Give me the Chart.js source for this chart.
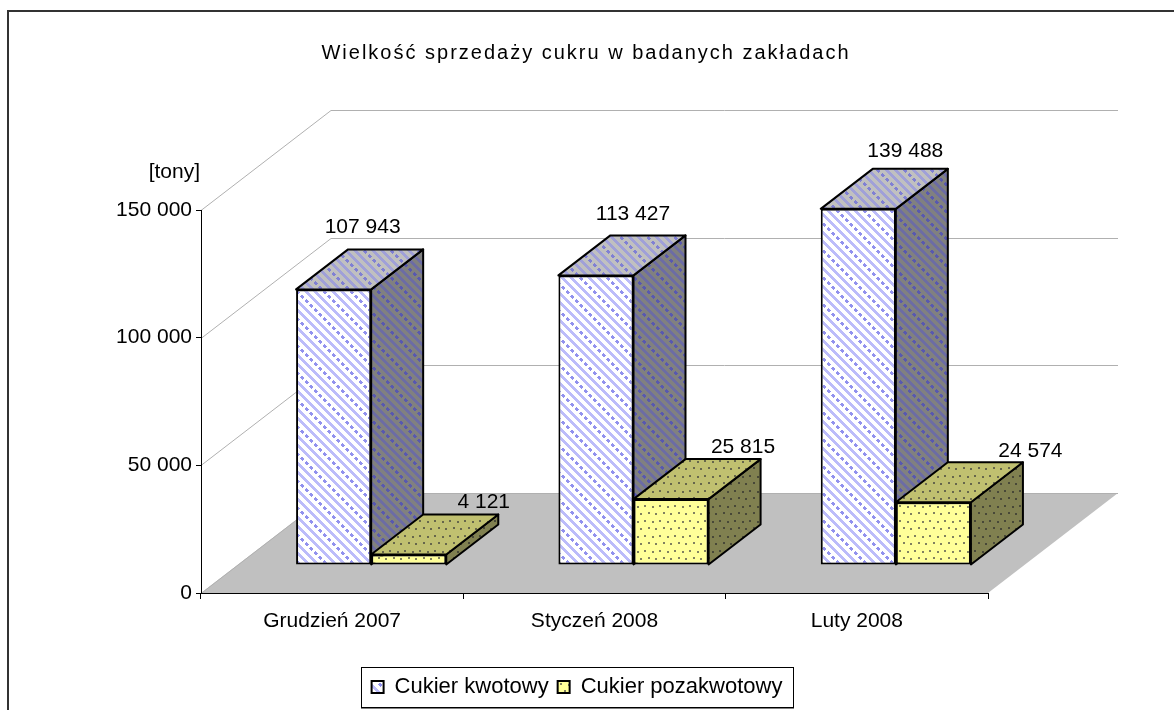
<!DOCTYPE html>
<html>
<head>
<meta charset="utf-8">
<title>Wielkość sprzedaży cukru</title>
<script src="https://cdn.jsdelivr.net/npm/chart.js@4/dist/chart.umd.js"></script>
<style>
    html, body { margin: 0; padding: 0; background: #fff; overflow: hidden; }
    canvas { display: block; }
</style>
</head>
<body>
<canvas id="sugarChart" width="1174" height="710"></canvas>
<script>
// Chart values
const months = ['Grudzień 2007', 'Styczeń 2008', 'Luty 2008'];
const quotaSugar = [107943, 113427, 139488];
const nonQuotaSugar = [4121, 25815, 24574];
const yTicks = [0, 50000, 100000, 150000];

// 3D look, in pixels
const FONT = 'Liberation Sans';
const WALL = { dx: 130, dy: 100 };     // floor depth
const BAR_SHIFT = { dx: 39, dy: 28 };  // bars stand in the middle of the floor
const BAR_DEPTH = { dx: 52, dy: 40 };

// hand placed data labels, relative to the middle of the bar top
const labelNudge = [
    [[3, -22], [11, -21], [21, -18]],
    [[49, -12], [46, -12], [71, -11]]
];

function formatNumber(v) {
    return String(v).replace(/\B(?=(\d{3})+$)/g, ' ');
}

// Excel style fill: diagonal stripes, every third one dotted
function stripePattern(base, stripe, dot) {
    const size = 27;
    const c = document.createElement('canvas');
    c.width = size;
    c.height = size;
    const g = c.getContext('2d');
    g.fillStyle = base;
    g.fillRect(0, 0, size, size);
    for (let y = 0; y < size; y++) {
        for (let x = 0; x < size; x++) {
            const d = (x - y + size) % size;
            const k = d % 9;
            if (d < 18 && k < 4) {
                g.fillStyle = stripe;
                g.fillRect(x, y, 1, 1);
            } else if (d >= 18 && k < 4 && (x + y) % 9 < 5) {
                g.fillStyle = dot;
                g.fillRect(x, y, 1, 1);
            }
        }
    }
    return g.createPattern(c, 'repeat');
}

function dotPattern(base, dot) {
    const size = 15;
    const c = document.createElement('canvas');
    c.width = size;
    c.height = size;
    const g = c.getContext('2d');
    g.fillStyle = base;
    g.fillRect(0, 0, size, size);
    g.fillStyle = dot;
    [[1, 1], [9, 0], [5, 8], [13, 9]].forEach(p => g.fillRect(p[0], p[1], 2, 2));
    return g.createPattern(c, 'repeat');
}

const quotaFill = {
    front: stripePattern('#ffffff', '#bcbcfa', '#9292ee'),
    top: stripePattern('#c0c0c0', '#a0a0d8', '#8080d4'),
    side: stripePattern('#808080', '#6c6ca4', '#5858b0')
};
const nonQuotaFill = {
    front: dotPattern('#ffff99', '#808060'),
    top: dotPattern('#c0c070', '#66664c'),
    side: dotPattern('#808050', '#484838')
};

function polygon(ctx, pts, fill) {
    ctx.beginPath();
    pts.forEach((p, i) => (i ? ctx.lineTo(p[0], p[1]) : ctx.moveTo(p[0], p[1])));
    ctx.closePath();
    ctx.fillStyle = fill;
    ctx.fill();
    ctx.strokeStyle = '#000';
    ctx.lineWidth = 2;
    ctx.lineJoin = 'round';
    ctx.stroke();
}

const box3d = {
    id: 'box3d',
    // walls and floor go under the axes
    beforeDraw(chart) {
        const ctx = chart.ctx;
        const area = chart.chartArea;
        const y = chart.scales.y;
        ctx.save();
        ctx.fillStyle = '#c0c0c0';
        ctx.beginPath();
        ctx.moveTo(area.left, area.bottom);
        ctx.lineTo(area.left + WALL.dx, area.bottom - WALL.dy);
        ctx.lineTo(area.right + WALL.dx, area.bottom - WALL.dy);
        ctx.lineTo(area.right, area.bottom);
        ctx.closePath();
        ctx.fill();
        ctx.strokeStyle = '#b0b0b0';
        ctx.lineWidth = 1;
        yTicks.forEach(v => {
            const py = Math.round(y.getPixelForValue(v)) + 0.5;
            ctx.beginPath();
            ctx.moveTo(area.left, py);
            ctx.lineTo(area.left + WALL.dx, py - WALL.dy);
            ctx.lineTo(area.right + WALL.dx, py - WALL.dy);
            ctx.stroke();
        });
        // outer frame, only top and left are in the picture
        ctx.strokeStyle = '#333';
        ctx.lineWidth = 2;
        ctx.beginPath();
        ctx.moveTo(8, 710);
        ctx.lineTo(8, 11);
        ctx.lineTo(1174, 11);
        ctx.stroke();
        ctx.restore();
    },
    // bars are painted here back to front, the library would put series 0 on top
    beforeDatasetsDraw(chart) {
        const ctx = chart.ctx;
        ctx.save();
        ctx.translate(BAR_SHIFT.dx, -BAR_SHIFT.dy);
        chart.data.datasets.forEach((ds, i) => {
            const meta = chart.getDatasetMeta(i);
            const faces = i === 0 ? quotaFill : nonQuotaFill;
            meta.data.forEach(bar => {
                const x2 = bar.x + bar.width / 2;
                const x1 = bar.x - bar.width / 2;
                polygon(ctx, [[x2, bar.y], [x2 + BAR_DEPTH.dx, bar.y - BAR_DEPTH.dy],
                    [x2 + BAR_DEPTH.dx, bar.base - BAR_DEPTH.dy], [x2, bar.base]], faces.side);
                polygon(ctx, [[x1, bar.y], [x1 + BAR_DEPTH.dx, bar.y - BAR_DEPTH.dy],
                    [x2 + BAR_DEPTH.dx, bar.y - BAR_DEPTH.dy], [x2, bar.y]], faces.top);
            });
            meta.controller.draw();
        });
        ctx.restore();

        // data labels
        ctx.save();
        ctx.fillStyle = '#000';
        ctx.font = '21px "' + FONT + '"';
        ctx.textAlign = 'center';
        ctx.textBaseline = 'middle';
        chart.data.datasets.forEach((ds, i) => {
            chart.getDatasetMeta(i).data.forEach((bar, j) => {
                const n = labelNudge[i][j];
                const x = bar.x + BAR_SHIFT.dx + BAR_DEPTH.dx / 2 + n[0];
                const y = bar.y - BAR_SHIFT.dy - BAR_DEPTH.dy + n[1];
                ctx.fillText(formatNumber(ds.data[j]), x, y);
            });
        });
        ctx.textAlign = 'right';
        ctx.fillText('[tony]', 200, 172);
        ctx.restore();
        return false;
    },
    // title and legend do not sit on the middle of the plot in the original
    afterLayout(chart) {
        const title = chart.titleBlock;
        title.left = 0;
        title.right = 1172;
        const legend = chart.legend;
        legend.left = 361;
        legend.right = 793;
        // the title is set wide in the original
        if (!title.spaced) {
            const drawTitle = title.draw.bind(title);
            title.draw = () => {
                chart.ctx.save();
                chart.ctx.letterSpacing = '2px';
                drawTitle();
                chart.ctx.restore();
            };
            title.spaced = true;
        }
    },
    afterDraw(chart) {
        const ctx = chart.ctx;
        ctx.save();
        ctx.strokeStyle = '#000';
        ctx.lineWidth = 1;
        ctx.strokeRect(361.5, 667.5, 432, 40);
        ctx.strokeStyle = '#808080';
        ctx.beginPath();
        ctx.moveTo(361, 708.5);
        ctx.lineTo(794, 708.5);
        ctx.stroke();
        ctx.restore();
    }
};

const ctx = document.getElementById('sugarChart').getContext('2d');
const sugarChart = new Chart(ctx, {
    type: 'bar',
    plugins: [box3d],
    data: {
        labels: months,
        datasets: [
            {
                label: 'Cukier kwotowy',
                data: quotaSugar,
                clip: false,
                backgroundColor: quotaFill.front,
                borderColor: '#000',
                borderWidth: 2,
                borderSkipped: false
            },
            {
                label: 'Cukier pozakwotowy',
                data: nonQuotaSugar,
                clip: false,
                backgroundColor: nonQuotaFill.front,
                borderColor: '#000',
                borderWidth: 2,
                borderSkipped: false
            }
        ]
    },
    options: {
        responsive: false,
        animation: false,
        barPercentage: 1,
        categoryPercentage: 0.5725,
        layout: { padding: { left: 0, right: 186, top: 0, bottom: 2 } },
        plugins: {
            tooltip: { enabled: false },
            title: {
                display: true,
                text: 'Wielkość sprzedaży cukru w badanych zakładach',
                color: '#000',
                font: { family: FONT, size: 20, weight: 'normal' },
                padding: { top: 41, bottom: 145 }
            },
            legend: {
                position: 'bottom',
                labels: {
                    color: '#000',
                    font: { family: FONT, size: 22 },
                    boxWidth: 12,
                    boxHeight: 12,
                    padding: 9
                }
            }
        },
        scales: {
            x: {
                afterFit: s => { s.height = 74; },
                grid: { drawOnChartArea: false, tickLength: 6, tickColor: '#000' },
                border: { color: '#000', width: 1 },
                ticks: { color: '#000', maxRotation: 0, padding: 10, font: { family: FONT, size: 21 } }
            },
            y: {
                min: 0,
                max: 150000,
                afterFit: s => { s.width = 201; },
                grid: { drawOnChartArea: false, tickLength: 5, tickColor: '#000' },
                border: { color: '#000', width: 1 },
                ticks: {
                    stepSize: 50000,
                    color: '#000',
                    padding: 4,
                    font: { family: FONT, size: 21 },
                    callback: v => formatNumber(v)
                }
            }
        }
    }
});
</script>
</body>
</html>
